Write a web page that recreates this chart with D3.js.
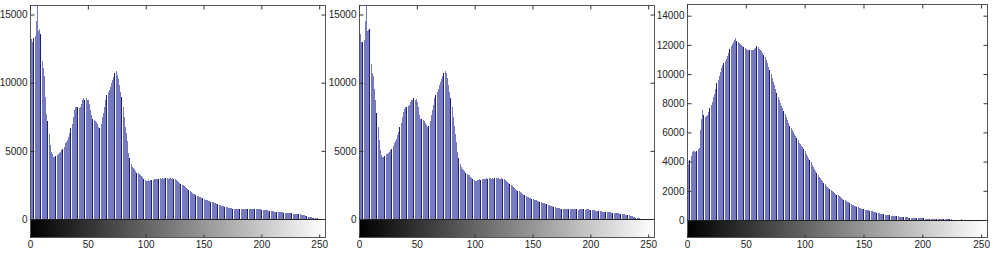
<!DOCTYPE html>
<html>
<head>
<meta charset="utf-8">
<script src="https://cdnjs.cloudflare.com/ajax/libs/d3/7.8.5/d3.min.js"></script>
<style>
  body { margin: 0; background: #fff; }
  svg { display: block; }
  text { font-family: "Liberation Sans", Arial, sans-serif; }
</style>
</head>
<body>
<div id="chart"></div>
<script>
// histogram counts, one per grey level 0..255
var hist1 = [
  13700, 13200, 13000, 13300, 13400, 14500, 17000, 13800, 13950, 13600,
  11600, 11100, 10500, 8950, 7700, 7200, 6250, 5400, 4900, 4750,
  4550, 4550, 4600, 4700, 4800, 4850, 4900, 5050, 5150, 5300,
  5550, 5650, 5800, 6050, 6300, 6650, 7000, 7500, 8000, 8200,
  8250, 8200, 8150, 8250, 8450, 8700, 8850, 8750, 8850, 8700,
  8700, 8450, 8000, 7600, 7350, 7250, 7200, 7100, 6950, 6750,
  6650, 7000, 7500, 7750, 8200, 8700, 9100, 9300, 9500, 9700,
  9950, 10200, 10450, 10700, 10850, 10600, 10300, 9800, 9300, 8950,
  8200, 7500, 6750, 6300, 5700, 4850, 4450, 4050, 3850, 3750,
  3650, 3550, 3400, 3350, 3300, 3200, 3150, 3050, 2950, 2850,
  2800, 2800, 2850, 2800, 2850, 2850, 2850, 2900, 2900, 2950,
  2900, 2950, 2980, 2950, 3000, 2950, 2980, 3000, 3000, 2950,
  3000, 2980, 2950, 3000, 2950, 2900, 2850, 2800, 2720, 2650,
  2580, 2520, 2480, 2420, 2350, 2280, 2220, 2150, 2080, 2000,
  1930, 1870, 1820, 1760, 1720, 1670, 1630, 1590, 1550, 1510,
  1470, 1430, 1400, 1370, 1340, 1310, 1280, 1250, 1220, 1190,
  1160, 1120, 1090, 1060, 1020, 990, 960, 930, 900, 870,
  850, 830, 810, 790, 780, 770, 750, 740, 730, 720,
  720, 710, 710, 700, 710, 700, 710, 700, 710, 700,
  710, 700, 710, 720, 710, 700, 710, 720, 710, 700,
  690, 680, 660, 650, 640, 630, 610, 600, 590, 580,
  560, 550, 540, 530, 520, 510, 500, 490, 480, 470,
  465, 455, 445, 435, 425, 415, 405, 395, 385, 375,
  365, 355, 345, 335, 320, 300, 280, 260, 230, 200,
  180, 160, 140, 120, 100, 85, 70, 55, 45, 35,
  25, 15, 10, 5, 2, 0
];

var hist2 = [
  13700, 13600, 13000, 12950, 13100, 14500, 17000, 13800, 13900, 13950,
  11400, 10700, 10500, 9550, 8700, 7750, 6750, 5800, 5050, 4700,
  4550, 4550, 4600, 4750, 4800, 4850, 4900, 5050, 5150, 5350,
  5600, 5700, 5900, 6150, 6400, 6750, 7050, 7500, 7850, 8100,
  8200, 8200, 8300, 8400, 8600, 8700, 8750, 8850, 8700, 8800,
  8600, 8200, 7600, 7350, 7300, 7250, 7200, 7050, 6900, 6750,
  6850, 7200, 7600, 8000, 8350, 8850, 9100, 9300, 9550, 9800,
  10050, 10300, 10500, 10700, 10850, 10700, 10350, 9800, 9300, 8850,
  8200, 7500, 6800, 6250, 5650, 4900, 4450, 4000, 3850, 3700,
  3600, 3500, 3400, 3300, 3250, 3200, 3100, 3000, 2950, 2850,
  2800, 2800, 2850, 2850, 2900, 2850, 2900, 2950, 2900, 2950,
  3000, 2950, 3000, 3000, 2950, 3000, 2950, 3000, 2980, 3000,
  3000, 2950, 2950, 2980, 2950, 2900, 2850, 2780, 2700, 2630,
  2560, 2500, 2450, 2380, 2300, 2230, 2160, 2090, 2020, 1960,
  1900, 1840, 1780, 1730, 1690, 1650, 1610, 1570, 1530, 1490,
  1450, 1420, 1390, 1360, 1330, 1300, 1270, 1240, 1210, 1180,
  1150, 1110, 1080, 1050, 1010, 980, 950, 920, 890, 860,
  840, 820, 800, 790, 770, 760, 750, 740, 730, 720,
  710, 710, 700, 700, 710, 700, 700, 710, 700, 690,
  700, 710, 700, 710, 700, 690, 700, 710, 700, 690,
  680, 660, 650, 640, 620, 610, 600, 580, 570, 560,
  550, 540, 530, 520, 510, 500, 490, 480, 470, 460,
  450, 440, 430, 420, 410, 400, 390, 380, 360, 345,
  330, 310, 290, 270, 250, 220, 190, 160, 130, 100,
  80, 60, 40, 25, 15, 8, 4, 2, 0, 0,
  0, 0, 0, 0, 0, 0
];

var hist3 = [
  3750, 3850, 4100, 4400, 4650, 4700, 4700, 4680, 4750, 4850,
  4950, 6170, 6900, 7535, 7200, 7080, 7150, 7190, 7400, 7650,
  7850, 8100, 8400, 8650, 9000, 9360, 9600, 9900, 10160, 10400,
  10600, 10730, 10900, 11050, 11250, 11450, 11700, 11900, 12050, 12200,
  12300, 12450, 12250, 12200, 12150, 12050, 12000, 11950, 11870, 11800,
  11700, 11650, 11640, 11650, 11630, 11650, 11640, 11700, 11800, 11900,
  11850, 11750, 11650, 11550, 11450, 11300, 11150, 10950, 10750, 10500,
  10250, 10000, 9750, 9480, 9230, 8980, 8720, 8450, 8200, 7990,
  7800, 7650, 7450, 7250, 7050, 6850, 6650, 6450, 6300, 6150,
  6050, 5900, 5750, 5600, 5450, 5300, 5200, 5100, 4980, 4850,
  4700, 4550, 4400, 4250, 4110, 3950, 3800, 3650, 3500, 3350,
  3200, 3080, 2960, 2850, 2740, 2640, 2540, 2440, 2350, 2260,
  2180, 2100, 2030, 1970, 1940, 1860, 1800, 1740, 1680, 1620,
  1560, 1500, 1450, 1400, 1350, 1300, 1250, 1200, 1140, 1100,
  1060, 1020, 980, 940, 900, 870, 840, 800, 770, 740,
  720, 700, 690, 685, 660, 640, 610, 590, 560, 540,
  520, 500, 480, 460, 440, 420, 405, 390, 375, 360,
  345, 330, 320, 305, 295, 285, 275, 265, 255, 245,
  235, 230, 220, 210, 200, 195, 185, 180, 170, 165,
  160, 155, 150, 145, 140, 137, 130, 125, 120, 115,
  110, 105, 100, 95, 92, 88, 84, 80, 76, 72,
  70, 66, 62, 58, 55, 52, 50, 48, 46, 44,
  42, 40, 38, 36, 35, 34, 33, 32, 31, 30,
  30, 29, 28, 70, 26, 22, 18, 14, 10, 8,
  6, 4, 3, 2, 2, 1, 1, 0, 0, 0,
  0, 0, 0, 0, 0, 0
];

var xTicks = [0, 50, 100, 150, 200, 250];
var yTicks12 = [0, 5000, 10000, 15000];
var yTicks3 = [0, 2000, 4000, 6000, 8000, 10000, 12000, 14000];

var W = 994, H = 254;
var barColor = "#7579bd", edgeColor = "#1d1d7a";

var panels = [
  {data: hist1, yMax: 15700, ticks: yTicks12, left: 30, right: 325, top: 5, base: 219, bottom: 237},
  {data: hist2, yMax: 15700, ticks: yTicks12, left: 359, right: 654, top: 5, base: 219, bottom: 237},
  {data: hist3, yMax: 14800, ticks: yTicks3, left: 687, right: 987, top: 4, base: 220, bottom: 237}
];

var svg = d3.select("#chart").append("svg")
    .attr("width", W)
    .attr("height", H);

svg.append("rect").attr("width", W).attr("height", H).attr("fill", "#fff");

var defs = svg.append("defs");
var grad = defs.append("linearGradient").attr("id", "grey").attr("x1", "0%").attr("x2", "100%");
grad.append("stop").attr("offset", "0%").attr("stop-color", "#000");
grad.append("stop").attr("offset", "100%").attr("stop-color", "#fff");

panels.forEach(function(p, k){
    var x = d3.scaleLinear().domain([0, 255]).range([p.left, p.right]);
    var y = d3.scaleLinear().domain([0, p.yMax]).range([p.base, p.top]).clamp(true);

    var g = svg.append("g");

    // stems, one pixel wide; a stem followed by an empty pixel is drawn darker
    g.selectAll("rect.stem")
        .data(p.data)
        .enter()
        .append("rect")
        .attr("class", "stem")
        .attr("shape-rendering", "crispEdges")
        .attr("x", function(d, i){ return Math.round(x(i)); })
        .attr("width", 1)
        .attr("y", function(d){ return Math.round(y(d)); })
        .attr("height", function(d){ return p.base - Math.round(y(d)); })
        .attr("fill", function(d, i){
            return Math.round(x(i + 1)) - Math.round(x(i)) > 1 ? edgeColor : barColor;
        });

    // grey level bar under the histogram
    g.append("rect")
        .attr("x", p.left).attr("y", p.base)
        .attr("width", p.right - p.left).attr("height", p.bottom - p.base)
        .attr("fill", "url(#grey)");

    // box
    g.append("rect")
        .attr("x", p.left + 0.5).attr("y", p.top + 0.5)
        .attr("width", p.right - p.left).attr("height", p.bottom - p.top)
        .attr("fill", "none").attr("stroke", "#555").attr("stroke-width", 1);
    g.append("line")
        .attr("x1", p.left).attr("x2", p.right)
        .attr("y1", p.base + 0.5).attr("y2", p.base + 0.5)
        .attr("stroke", "#222");

    var yl = g.append("g")
        .attr("transform", "translate(" + (p.left + 0.5) + ",0)")
        .call(d3.axisLeft(y).tickValues(p.ticks).tickSize(-4).tickSizeOuter(0).tickPadding(3).tickFormat(d3.format("d")));
    var yr = g.append("g")
        .attr("transform", "translate(" + (p.right + 0.5) + ",0)")
        .call(d3.axisRight(y).tickValues(p.ticks).tickSize(-4).tickSizeOuter(0).tickFormat(""));
    var xt = g.append("g")
        .attr("transform", "translate(0," + (p.top + 0.5) + ")")
        .call(d3.axisTop(x).tickValues(xTicks).tickSize(-4).tickSizeOuter(0).tickFormat(""));
    var xb = g.append("g")
        .attr("transform", "translate(0," + (p.bottom + 0.5) + ")")
        .call(d3.axisBottom(x).tickValues(xTicks).tickSize(-3).tickSizeOuter(0).tickPadding(3));

    [yl, yr, xt, xb].forEach(function(a){
        a.select(".domain").remove();
        a.selectAll("line").attr("stroke", "#333");
        a.selectAll("text").attr("fill", "#222").style("font-size", "10px");
    });
});
</script>
</body>
</html>
